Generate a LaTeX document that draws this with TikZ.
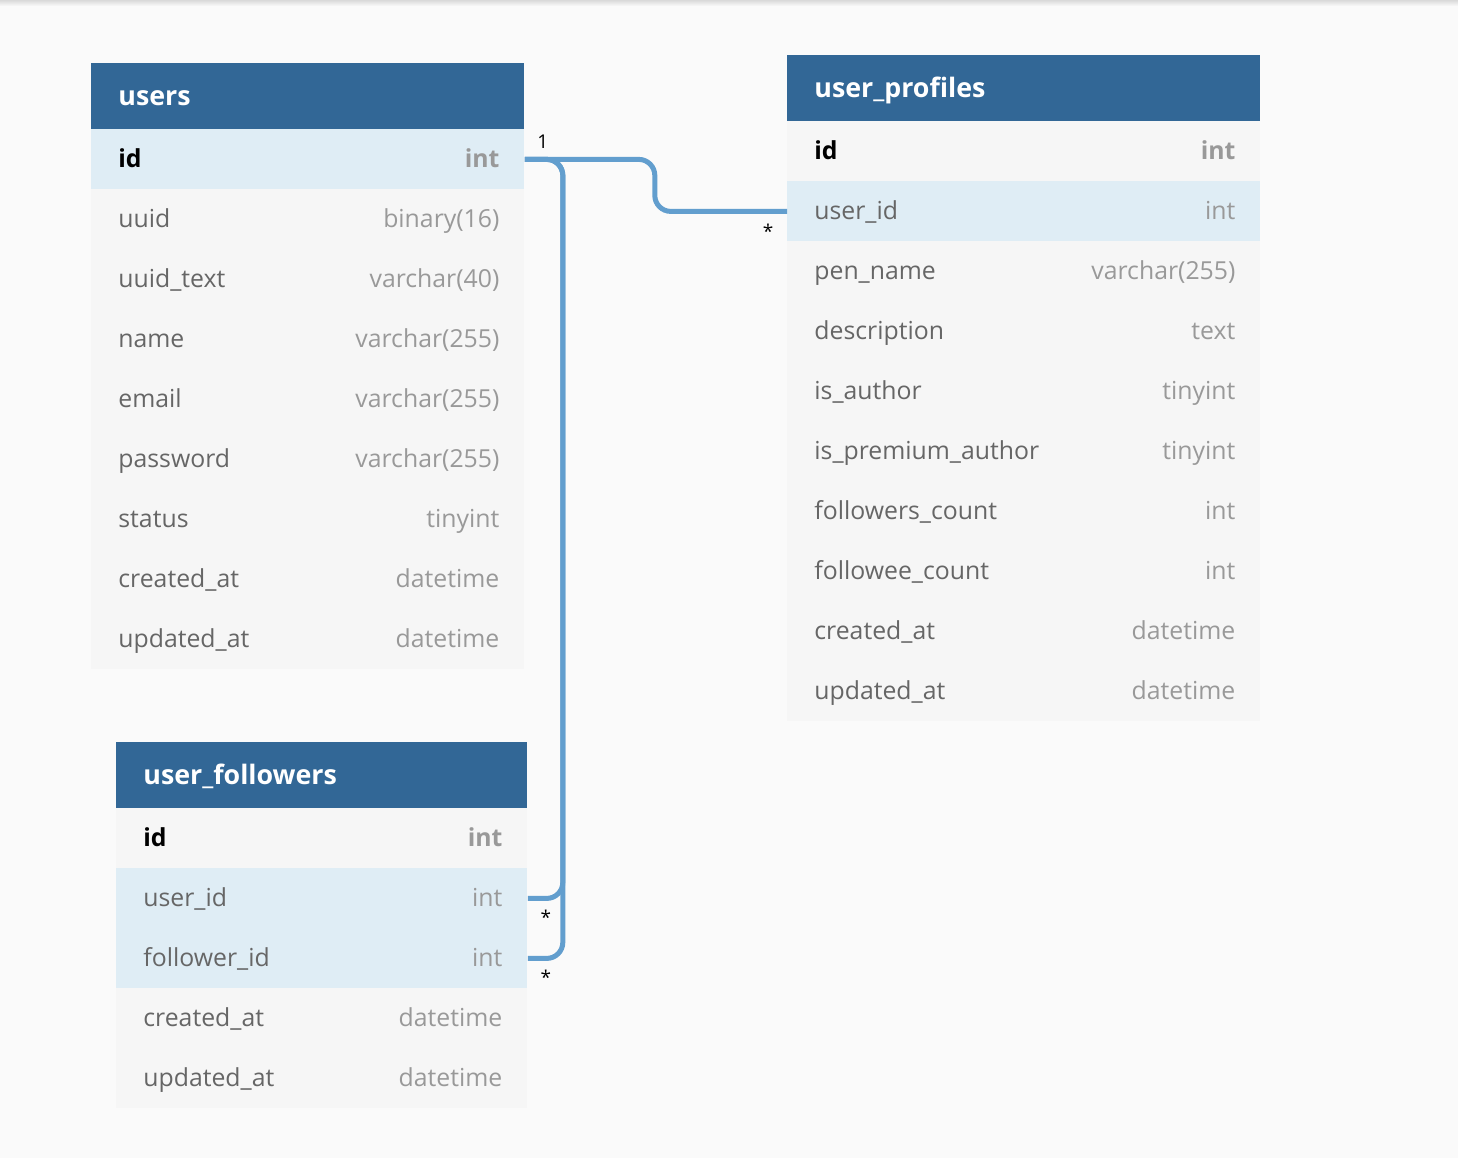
\documentclass[tikz,border=0pt]{standalone}
\usepackage{fontspec}
\setmainfont{Open Sans}
\usetikzlibrary{calc,positioning}

\definecolor{pagebg}{HTML}{FAFAFA}
\definecolor{headblue}{HTML}{326796}
\definecolor{rowbg}{HTML}{F6F6F6}
\definecolor{rowhl}{HTML}{DFEDF5}
\definecolor{relblue}{HTML}{629ECE}
\definecolor{namegray}{HTML}{666666}
\definecolor{typegray}{HTML}{999999}

\tikzset{
  tblhead/.style={fill=headblue, text=white, anchor=north west, inner ysep=0pt,
                  inner xsep=13.5pt, minimum height=33pt, align=left,
                  text height=8.7pt, text depth=0pt,
                  font=\bfseries\fontsize{13.4}{14}\selectfont},
  tblrow/.style={anchor=north west, inner sep=0pt, minimum height=30pt},
  col-name/.style={anchor=base west, inner sep=0pt, text=namegray, font=\fontsize{12.4}{14}\selectfont},
  col-type/.style={anchor=base east, inner sep=0pt, text=typegray, font=\fontsize{12.4}{14}\selectfont},
  key-name/.style={col-name, text=black, font=\bfseries\fontsize{12.4}{14}\selectfont},
  key-type/.style={col-type, font=\bfseries\fontsize{12.4}{14}\selectfont},
  rel/.style={draw=relblue, line width=2.5pt, rounded corners=8pt},
  card/.style={inner sep=0pt, font=\fontsize{9.5}{10}\selectfont},
}

\begin{document}
\begin{tikzpicture}[x=0.5pt,y=-0.5pt]
\def\hh{66} % header height
\def\rh{60} % row height

% page
\fill[pagebg] (0,0) rectangle (1458,1158);
\shade[top color=black!15, bottom color=pagebg] (0,0) rectangle (1458,6);
\useasboundingbox (0,0) rectangle (1458,1158);

% users
\def\tx{91}\def\ty{63}\def\tw{433}
\node[tblhead, text width={(\tw-54)*0.5pt}] (users) at (\tx,\ty) {users};
\foreach \f/\t/\c/\k [count=\i] in {id/int/rowhl/key, uuid/binary(16)/rowbg/col,
    uuid\_text/varchar(40)/rowbg/col, name/varchar(255)/rowbg/col,
    email/varchar(255)/rowbg/col, password/varchar(255)/rowbg/col,
    status/tinyint/rowbg/col, created\_at/datetime/rowbg/col,
    updated\_at/datetime/rowbg/col}
{
  \node[tblrow, fill=\c, minimum width={\tw*0.5pt}] (users-\i) at (\tx,{\ty+\hh+(\i-1)*\rh}) {};
  \node[\k-name] at ($(users-\i.west)+(27,8)$) {\f};
  \node[\k-type] at ($(users-\i.east)+(-25,8)$) {\t};
}

% user_profiles
\def\tx{787}\def\ty{55}\def\tw{473}
\node[tblhead, text width={(\tw-54)*0.5pt}] (profiles) at (\tx,\ty) {user\_profiles};
\foreach \f/\t/\c/\k [count=\i] in {id/int/rowbg/key, user\_id/int/rowhl/col,
    pen\_name/varchar(255)/rowbg/col, description/text/rowbg/col,
    is\_author/tinyint/rowbg/col, is\_premium\_author/tinyint/rowbg/col,
    followers\_count/int/rowbg/col, followee\_count/int/rowbg/col,
    created\_at/datetime/rowbg/col, updated\_at/datetime/rowbg/col}
{
  \node[tblrow, fill=\c, minimum width={\tw*0.5pt}] (profiles-\i) at (\tx,{\ty+\hh+(\i-1)*\rh}) {};
  \node[\k-name] at ($(profiles-\i.west)+(27,8)$) {\f};
  \node[\k-type] at ($(profiles-\i.east)+(-25,8)$) {\t};
}

% user_followers
\def\tx{116}\def\ty{742}\def\tw{411}
\node[tblhead, text width={(\tw-54)*0.5pt}] (followers) at (\tx,\ty) {user\_followers};
\foreach \f/\t/\c/\k [count=\i] in {id/int/rowbg/key, user\_id/int/rowhl/col,
    follower\_id/int/rowhl/col, created\_at/datetime/rowbg/col,
    updated\_at/datetime/rowbg/col}
{
  \node[tblrow, fill=\c, minimum width={\tw*0.5pt}] (followers-\i) at (\tx,{\ty+\hh+(\i-1)*\rh}) {};
  \node[\k-name] at ($(followers-\i.west)+(27,8)$) {\f};
  \node[\k-type] at ($(followers-\i.east)+(-25,8)$) {\t};
}

% relations
\draw[rel] (users-1.east) -- ++(130,0) |- (profiles-2.west);
\draw[rel] (users-1.east) -- ++(38,0) |- (followers-2.east);
\draw[rel] (users-1.east) -- ++(38,0) |- (followers-3.east);

\node[card] (one) at ($(users-1.east)+(18,-18)$) {1};
\node[card] (many1) at ($(profiles-2.west)+(-19,20)$) {*};
\node[card] (many2) at ($(followers-2.east)+(18,19)$) {*};
\node[card] (many3) at ($(followers-3.east)+(18,19)$) {*};
\end{tikzpicture}
\end{document}
